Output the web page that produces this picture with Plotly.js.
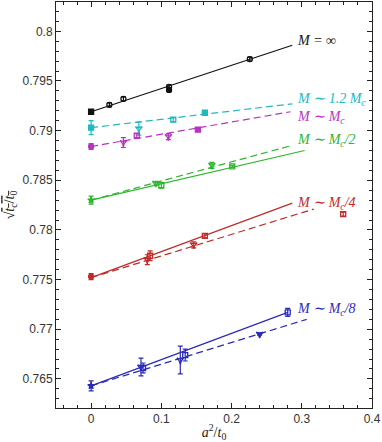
<!DOCTYPE html>
<html>
<head>
<meta charset="utf-8">
<script src="https://cdn.plot.ly/plotly-3.0.1.min.js"></script>
<style>
  html, body { margin: 0; padding: 0; background: #fff; }
  #grafica { width: 382px; height: 442px; }
</style>
</head>
<body>
<div id="grafica"></div>
<script>
// puntos medidos (a^2/t0, sqrt(tc/t0), error)
const infX = [0, 0.026, 0.046, 0.111, 0.111, 0.226];
const infY = [0.7919, 0.7926, 0.7932, 0.7941, 0.7944, 0.7972];
const infErr = [0.0001, 0.0002, 0.0002, 0.0002, 0.0002, 0.0002];

const m12X = [0, 0.068, 0.117, 0.162];
const m12Y = [0.7903, 0.7902, 0.7911, 0.7918];
const m12Err = [0.0007, 0.00065, 0.0002, 0.0001];

const m1X = [0, 0.046, 0.065, 0.110, 0.152];
const m1Y = [0.7884, 0.7888, 0.7895, 0.7894, 0.7901];
const m1Err = [0.0003, 0.0005, 0.0002, 0.0003, 0.0001];

const m2X = [0, 0.092, 0.100, 0.172, 0.201];
const m2Y = [0.7830, 0.7847, 0.7845, 0.7865, 0.7864];
const m2Err = [0.0004, 0.0002, 0.0003, 0.0003, 0.0001];

const m4X = [0, 0.080, 0.084, 0.146, 0.162, 0.359];
const m4Y = [0.7753, 0.7770, 0.7774, 0.7785, 0.7794, 0.7816];
const m4Err = [0.0003, 0.0005, 0.0005, 0.0003, 0.0002, 0.0002];

const m8X = [0, 0.071, 0.074, 0.127, 0.134, 0.240, 0.280];
const m8Y = [0.7643, 0.7662, 0.7661, 0.7669, 0.7674, 0.7695, 0.7717];
const m8Err = [0.0005, 0.0009, 0.0005, 0.0014, 0.0006, 0.0001, 0.0004];

// ajustes lineales (extremos)
const fitInfX = [0, 0.2865], fitInfY = [0.7919, 0.7986];
const fitM12X = [0, 0.2865], fitM12Y = [0.7903, 0.7927];
const fitM1X = [0, 0.284], fitM1Y = [0.7884, 0.7919];
const fitM2aX = [0, 0.304], fitM2aY = [0.7830, 0.7880];
const fitM2bX = [0, 0.2855], fitM2bY = [0.7830, 0.7885];
const fitM4aX = [0, 0.2865], fitM4aY = [0.7752, 0.7827];
const fitM4bX = [0, 0.317], fitM4bY = [0.7752, 0.7821];
const fitM8aX = [0, 0.280], fitM8aY = [0.7643, 0.7717];
const fitM8bX = [0, 0.307], fitM8bY = [0.7643, 0.7710];

const etiquetas = ['M = ∞', 'M ∼ 1.2 M<sub>c</sub>', 'M ∼ M<sub>c</sub>',
  'M ∼ M<sub>c</sub>/2', 'M ∼ M<sub>c</sub>/4', 'M ∼ M<sub>c</sub>/8'];

const yTicks = [0.765, 0.77, 0.775, 0.78, 0.785, 0.79, 0.795, 0.8];
const xTicks = [0, 0.1, 0.2, 0.3, 0.4];

const negro = '#111111', cian = '#22b8c0', magenta = '#b833c0',
  verde = '#2db52d', rojo = '#c02a2a', azul = '#2a2ab8';

function puntos(x, y, err, color, simbolos) {
  return {
    x: x, y: y, type: 'scatter', mode: 'markers', hoverinfo: 'skip',
    error_y: { type: 'data', array: err, visible: true, color: color, thickness: 1.2, width: 2.5 },
    marker: { symbol: simbolos, size: 5, color: color, line: { color: color, width: 1.3 } }
  };
}

function ajuste(x, y, color, dash) {
  return {
    x: x, y: y, type: 'scatter', mode: 'lines', hoverinfo: 'skip',
    line: { color: color, width: 1.2, dash: dash }
  };
}

const trazos = [
  ajuste(fitInfX, fitInfY, negro, 'solid'),
  ajuste(fitM12X, fitM12Y, cian, '7px,4px'),
  ajuste(fitM1X, fitM1Y, magenta, '7px,4px'),
  ajuste(fitM2aX, fitM2aY, verde, 'solid'),
  ajuste(fitM2bX, fitM2bY, verde, '7px,4px'),
  ajuste(fitM4aX, fitM4aY, rojo, 'solid'),
  ajuste(fitM4bX, fitM4bY, rojo, '7px,4px'),
  ajuste(fitM8aX, fitM8aY, azul, 'solid'),
  ajuste(fitM8bX, fitM8bY, azul, '7px,4px'),
  puntos(infX, infY, infErr, negro, ['square', 'circle-open', 'circle-open', 'circle', 'circle-open', 'circle-open']),
  puntos(m12X, m12Y, m12Err, cian, ['square', 'star-triangle-down-open', 'square-open', 'square']),
  puntos(m1X, m1Y, m1Err, magenta, ['circle', 'star-triangle-down-open', 'square-open', 'star-triangle-down-open', 'square']),
  puntos(m2X, m2Y, m2Err, verde, ['star', 'star-triangle-down-open', 'square-open', 'star-triangle-down-open', 'square-open']),
  puntos(m4X, m4Y, m4Err, rojo, ['circle', 'star-triangle-down-open', 'square-open', 'star-triangle-down-open', 'square-open', 'square-open']),
  puntos(m8X, m8Y, m8Err, azul, ['star', 'star-triangle-down-open', 'square-open', 'star-triangle-down-open', 'square-open', 'star-triangle-down', 'square-open'])
];

const colores = [negro, cian, magenta, verde, rojo, azul];
const posY = [0.7991, 0.7931, 0.79135, 0.7890, 0.7827, 0.7720];
const notas = etiquetas.map((t, i) => ({
  x: 0.291, y: posY[i], xref: 'x', yref: 'y', xanchor: 'left', yanchor: 'middle',
  text: '<i>' + t + '</i>', showarrow: false,
  font: { family: 'Liberation Serif', size: 14, color: colores[i] }
}));

const ejeComun = {
  showgrid: false, zeroline: false, showline: true, linecolor: '#222', linewidth: 1,
  mirror: 'allticks', ticks: 'inside', ticklen: 5, tickcolor: '#222',
  tickfont: { family: 'Liberation Sans', size: 12, color: '#333' }
};

Plotly.newPlot('grafica', trazos, {
  width: 382, height: 442,
  margin: { l: 56, r: 10, t: 2, b: 34 },
  paper_bgcolor: '#fff', plot_bgcolor: '#fff',
  showlegend: false,
  annotations: notas,
  xaxis: Object.assign({}, ejeComun, {
    range: [-0.05, 0.4], tickmode: 'array', tickvals: xTicks,
    ticktext: xTicks.map(v => String(+v.toFixed(1))),
    minor: { dtick: 0.02, tick0: 0, ticks: 'inside', ticklen: 3, tickcolor: '#222' },
    title: { text: '<i>a</i><sup>2</sup>/<i>t</i><sub>0</sub>', standoff: 4,
      font: { family: 'Liberation Serif', size: 14, color: '#222' } }
  }),
  yaxis: Object.assign({}, ejeComun, {
    range: [0.76207, 0.80295], tickmode: 'array', tickvals: yTicks,
    ticktext: yTicks.map(v => String(+v.toFixed(3))),
    minor: { dtick: 0.001, tick0: 0.76, ticks: 'inside', ticklen: 3, tickcolor: '#222' },
    title: { text: '√<span style="text-decoration:overline"><i>t</i><sub>c</sub>/<i>t</i><sub>0</sub></span>', standoff: 4,
      font: { family: 'Liberation Serif', size: 14, color: '#222' } }
  })
}, { displayModeBar: false, staticPlot: true });
</script>
</body>
</html>
